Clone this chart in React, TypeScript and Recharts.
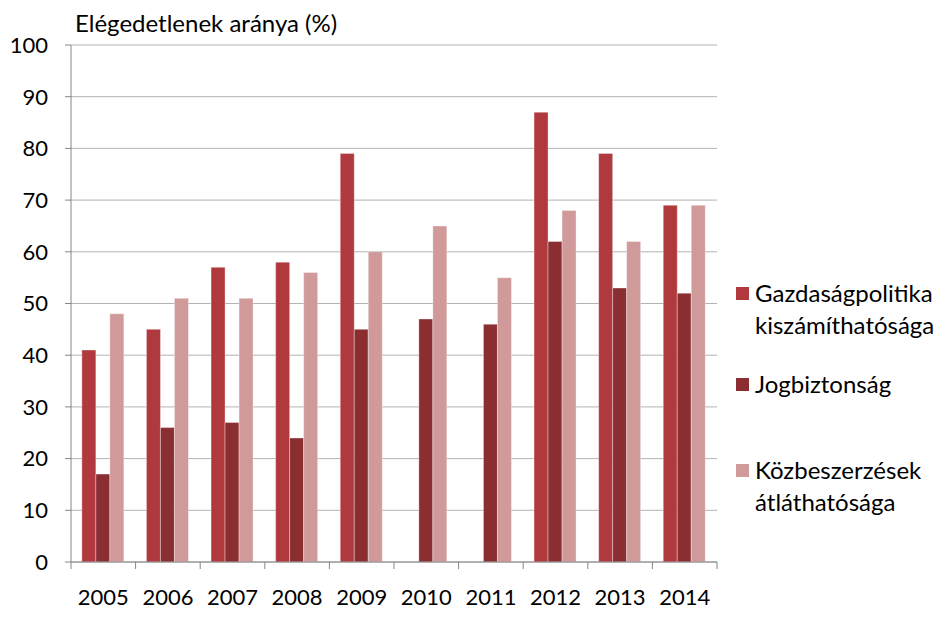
import React from 'react';
import { BarChart, Bar, XAxis, YAxis, CartesianGrid } from 'recharts';

const years = ['2005', '2006', '2007', '2008', '2009', '2010', '2011', '2012', '2013', '2014'];
const gazdasag = [41, 45, 57, 58, 79, null, null, 87, 79, 69];
const jog = [17, 26, 27, 24, 45, 47, 46, 62, 53, 52];
const kozbesz = [48, 51, 51, 56, 60, 65, 55, 68, 62, 69];
const yTicks = [0, 10, 20, 30, 40, 50, 60, 70, 80, 90, 100];

const seriesNames = ['Gazdaságpolitika kiszámíthatósága', 'Jogbiztonság', 'Közbeszerzések átláthatósága'];
const legendLines = [['Gazdaságpolitika', 'kiszámíthatósága'], ['Jogbiztonság'], ['Közbeszerzések', 'átláthatósága']];
const colors = ['#b0393d', '#8b2e31', '#d09a9b'];

const data = years.map((year, i) => ({
  year,
  g: gazdasag[i],
  j: jog[i],
  k: kozbesz[i],
}));

const FONT = 'Lato, "Open Sans", sans-serif';

const XTick = (props: any) => {
  const { x, y, payload, index } = props;
  const half = payload && payload.offset ? payload.offset : 32.3;
  return (
    <g>
      <line x1={x - half} x2={x - half} y1={y} y2={y + 7} stroke="#868686" />
      {index === years.length - 1 && (
        <line x1={x + half} x2={x + half} y1={y} y2={y + 7} stroke="#868686" />
      )}
      <text x={x} y={y + 43} textAnchor="middle" fontSize={22} fill="#000" fontFamily={FONT}>
        {payload.value}
      </text>
    </g>
  );
};

const ChartLegend = () => {
  const tops = [0, 91, 177];
  return (
    <div
      style={{
        position: 'absolute',
        left: 735,
        top: 277,
        width: 211,
        height: 260,
        fontFamily: FONT,
        fontSize: 24,
        color: '#000',
      }}
    >
      {legendLines.map((lines, i) => (
        <div key={seriesNames[i]} style={{ position: 'absolute', left: 0, top: tops[i] }}>
          <div
            style={{
              position: 'absolute',
              left: 1,
              top: 10,
              width: 13,
              height: 13,
              background: colors[i],
            }}
          />
          <div style={{ marginLeft: 20, lineHeight: '32px', whiteSpace: 'nowrap' }}>
            {lines.map((l) => (
              <div key={l}>{l}</div>
            ))}
          </div>
        </div>
      ))}
    </div>
  );
};

export default function App() {
  return (
    <div style={{ position: 'absolute', left: 0, top: 0, width: 946, height: 619, background: '#fff' }}>
      <div
        style={{
          position: 'absolute',
          left: 75,
          top: 8,
          fontFamily: FONT,
          fontSize: 24,
          lineHeight: '30px',
          color: '#000',
          whiteSpace: 'nowrap',
        }}
      >
        Elégedetlenek aránya (%)
      </div>
      <BarChart
        width={946}
        height={619}
        data={data}
        margin={{ top: 45, right: 229, bottom: 7, left: 0 }}
        barCategoryGap="16.8%"
        barGap={0}
      >
        <CartesianGrid vertical={false} stroke="#b3b3b3" strokeWidth={1} />
        <XAxis
          dataKey="year"
          height={50}
          tick={<XTick />}
          tickLine={false}
          tickSize={0}
          tickMargin={0}
          axisLine={{ stroke: '#868686' }}
          interval={0}
        />
        <YAxis
          width={71}
          domain={[0, 100]}
          ticks={yTicks}
          interval={0}
          tickSize={6}
          tickMargin={17}
          tickLine={{ stroke: '#868686' }}
          axisLine={{ stroke: '#868686' }}
          tick={{ fontSize: 22, fill: '#000', fontFamily: FONT }}
        />
        <Bar dataKey="g" name={seriesNames[0]} fill={colors[0]} stroke="#ffffff" strokeOpacity={0.35} isAnimationActive={false} />
        <Bar dataKey="j" name={seriesNames[1]} fill={colors[1]} stroke="#ffffff" strokeOpacity={0.35} isAnimationActive={false} />
        <Bar dataKey="k" name={seriesNames[2]} fill={colors[2]} stroke="#ffffff" strokeOpacity={0.35} isAnimationActive={false} />
      </BarChart>
      <ChartLegend />
    </div>
  );
}
